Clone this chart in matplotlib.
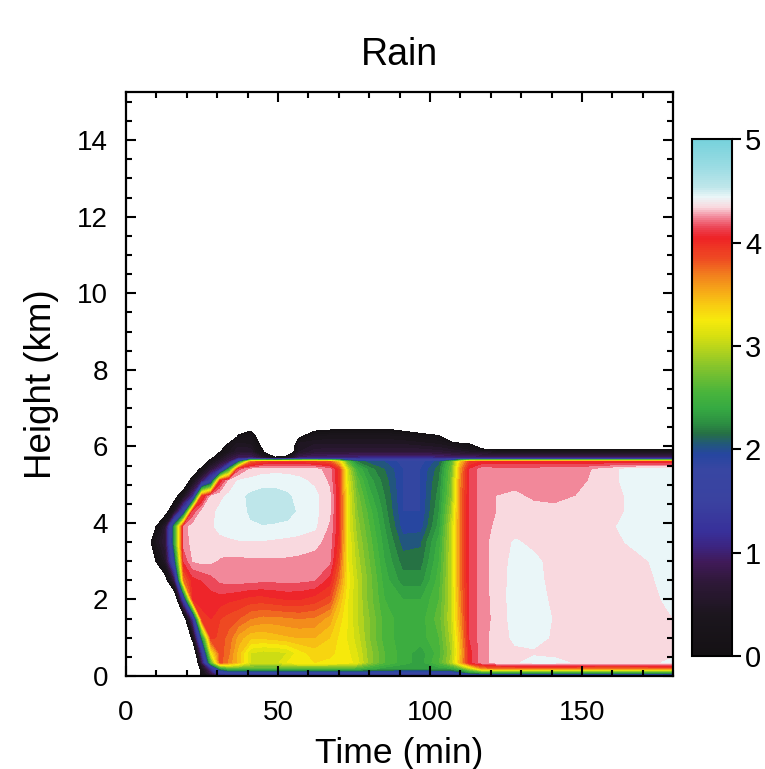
import numpy as np
import matplotlib
matplotlib.use("Agg")
import matplotlib.pyplot as plt
from matplotlib.colors import LinearSegmentedColormap, Normalize
from matplotlib.cm import ScalarMappable
from matplotlib.ticker import MultipleLocator

plt.rcParams['font.family'] = ['Liberation Sans', 'DejaVu Sans']

# Tiempo (min) y altura (km) de la malla
times = [0, 7, 10, 13, 16, 19, 22, 25, 28, 31,
         34, 37, 41, 45, 49, 53, 57, 62, 67, 70,
         73, 76, 80, 85, 91, 97, 103, 107, 110, 113,
         117, 122, 128, 134, 141, 148, 156, 164, 172, 180]
heights = [0.0, 0.1, 0.2, 0.35, 0.6, 1.0, 1.5, 2.0, 2.5, 3.0, 3.5, 3.9,
           4.3, 4.7, 5.1, 5.4, 5.6, 5.7, 5.85, 6.05, 6.25, 6.45, 6.6, 15.25]

# Valores de lluvia (-1 = sin dato / fuera de la nube)
rain = [
    [-1, -1, -1, -1, -1, -1, -1, 0.1, 0.6, 1.0,
     1.1, 1.1, 1.1, 1.1, 1.1, 1.1, 1.1, 1.1, 1.1, 1.1,
     1.1, 1.1, 1.1, 1.1, 1.1, 1.1, 1.1, 1.1, 1.2, 1.3,
     1.4, 1.4, 1.4, 1.4, 1.4, 1.4, 1.4, 1.4, 1.4, 1.4],
    [-1, -1, -1, -1, -1, -1, -1, 0.2, 0.9, 1.6,
     1.8, 1.8, 1.8, 1.8, 1.8, 1.8, 1.8, 1.8, 1.8, 1.8,
     1.8, 1.8, 1.8, 1.8, 1.8, 1.8, 1.8, 1.8, 2.0, 2.3,
     2.45, 2.45, 2.45, 2.45, 2.45, 2.45, 2.45, 2.45, 2.45, 2.45],
    [-1, -1, -1, -1, -1, -1, -1, 0.3, 1.2, 2.3,
     2.6, 2.6, 2.6, 2.6, 2.6, 2.6, 2.6, 2.6, 2.6, 2.6,
     2.6, 2.55, 2.45, 2.35, 2.3, 2.3, 2.35, 2.4, 2.6, 3.0,
     3.6, 3.75, 3.75, 3.75, 3.75, 3.75, 3.75, 3.75, 3.75, 3.75],
    [-1, -1, -1, -1, -1, -1, -1, 0.8, 2.6, 3.85,
     3.65, 3.45, 3.1, 3.05, 3.05, 3.2, 3.3, 3.3, 3.28, 3.25,
     3.25, 3.15, 2.85, 2.6, 2.45, 2.35, 2.6, 2.95, 3.5, 4.05,
     4.25, 4.35, 4.38, 4.45, 4.45, 4.38, 4.35, 4.35, 4.38, 4.42],
    [-1, -1, -1, -1, -1, -1, -0.6, 1.2, 3.2, 3.85,
     3.7, 3.45, 3.1, 3.05, 3.05, 3.1, 3.25, 3.35, 3.32, 3.28,
     3.22, 3.1, 2.85, 2.6, 2.45, 2.35, 2.55, 2.9, 3.45, 4.05,
     4.25, 4.35, 4.38, 4.38, 4.35, 4.35, 4.35, 4.35, 4.36, 4.38],
    [-1, -1, -1, -1, -1, -1, 0.2, 2.2, 3.95, 3.85,
     3.75, 3.55, 3.42, 3.42, 3.45, 3.48, 3.5, 3.5, 3.4, 3.28,
     3.18, 3.05, 2.8, 2.55, 2.45, 2.45, 2.6, 2.95, 3.5, 4.1,
     4.25, 4.35, 4.42, 4.45, 4.38, 4.35, 4.35, 4.35, 4.36, 4.38],
    [-1, -1, -1, -1, -1, -0.3, 1.2, 3.95, 4.0, 3.9,
     3.85, 3.8, 3.7, 3.66, 3.66, 3.68, 3.7, 3.68, 3.55, 3.35,
     3.2, 3.0, 2.8, 2.55, 2.45, 2.45, 2.65, 3.0, 3.6, 4.1,
     4.25, 4.33, 4.45, 4.46, 4.39, 4.35, 4.35, 4.36, 4.38, 4.4],
    [-1, -1, -1, -1, -0.6, 1.5, 4.0, 4.05, 4.05, 4.05,
     4.02, 4.0, 3.95, 3.95, 3.98, 4.0, 4.0, 3.95, 3.85, 3.5,
     3.2, 3.0, 2.75, 2.5, 2.4, 2.4, 2.6, 3.0, 3.65, 4.12,
     4.25, 4.34, 4.45, 4.46, 4.37, 4.35, 4.36, 4.36, 4.38, 4.42],
    [-1, -1, -1, -0.2, 0.8, 3.7, 4.05, 4.1, 4.15, 4.22,
     4.24, 4.24, 4.23, 4.22, 4.22, 4.23, 4.22, 4.2, 4.05, 3.7,
     3.25, 3.0, 2.75, 2.45, 2.25, 2.25, 2.55, 3.0, 3.7, 4.12,
     4.25, 4.35, 4.44, 4.44, 4.36, 4.35, 4.36, 4.37, 4.39, 4.43],
    [-1, -1, 0.05, 0.5, 1.9, 4.1, 4.3, 4.33, 4.32, 4.28,
     4.27, 4.27, 4.28, 4.28, 4.28, 4.28, 4.27, 4.26, 4.22, 3.85,
     3.2, 2.95, 2.7, 2.4, 2.15, 2.15, 2.5, 3.0, 3.7, 4.12,
     4.25, 4.35, 4.43, 4.42, 4.37, 4.35, 4.36, 4.38, 4.4, 4.45],
    [-1, -0.3, 0.4, 0.7, 2.4, 4.25, 4.33, 4.36, 4.37, 4.38,
     4.38, 4.39, 4.39, 4.39, 4.38, 4.37, 4.36, 4.33, 4.26, 3.95,
     3.2, 2.9, 2.65, 2.35, 2.05, 2.08, 2.45, 3.0, 3.7, 4.12,
     4.25, 4.35, 4.41, 4.38, 4.36, 4.35, 4.37, 4.4, 4.43, 4.46],
    [-1, -1, 0.05, 0.6, 2.4, 4.25, 4.35, 4.37, 4.39, 4.42,
     4.45, 4.47, 4.49, 4.49, 4.48, 4.47, 4.45, 4.42, 4.28, 4.0,
     3.15, 2.85, 2.6, 2.3, 1.95, 1.95, 2.35, 3.0, 3.7, 4.12,
     4.25, 4.32, 4.36, 4.37, 4.36, 4.35, 4.38, 4.41, 4.45, 4.47],
    [-1, -1, -1, -0.2, 0.5, 1.6, 4.1, 4.33, 4.38, 4.42,
     4.46, 4.47, 4.51, 4.56, 4.56, 4.54, 4.48, 4.43, 4.32, 4.0,
     3.15, 2.8, 2.55, 2.25, 1.9, 1.9, 2.3, 2.9, 3.7, 4.12,
     4.25, 4.3, 4.33, 4.34, 4.33, 4.33, 4.37, 4.4, 4.46, 4.48],
    [-1, -1, -1, -1, -0.2, 0.4, 1.1, 3.9, 4.33, 4.38,
     4.42, 4.47, 4.52, 4.55, 4.55, 4.52, 4.46, 4.43, 4.32, 4.0,
     3.15, 2.75, 2.45, 2.2, 1.9, 1.9, 2.25, 2.8, 3.7, 4.12,
     4.25, 4.3, 4.32, 4.28, 4.27, 4.3, 4.36, 4.4, 4.46, 4.48],
    [-1, -1, -1, -1, -1, -0.5, 0.3, 0.9, 1.6, 4.0,
     4.33, 4.41, 4.43, 4.45, 4.45, 4.44, 4.42, 4.38, 4.28, 3.95,
     3.1, 2.65, 2.35, 2.15, 1.9, 1.9, 2.2, 2.75, 3.65, 4.12,
     4.25, 4.25, 4.26, 4.26, 4.26, 4.27, 4.33, 4.42, 4.46, 4.48],
    [-1, -1, -1, -1, -1, -1, -0.5, 0.2, 0.7, 1.1,
     2.4, 4.15, 4.32, 4.36, 4.37, 4.37, 4.36, 4.34, 4.25, 3.95,
     3.0, 2.5, 2.25, 2.1, 1.9, 1.9, 2.15, 2.7, 3.6, 4.1,
     4.25, 4.24, 4.24, 4.24, 4.25, 4.26, 4.32, 4.42, 4.45, 4.46],
    [-1, -1, -1, -1, -1, -1, -1, -0.5, 0.3, 0.6,
     0.9, 2.0, 3.7, 3.9, 3.95, 3.95, 3.95, 3.9, 3.8, 3.4,
     2.6, 2.2, 2.05, 2.0, 1.85, 1.85, 2.05, 2.6, 3.4, 3.9,
     4.0, 4.0, 4.0, 4.0, 4.0, 4.0, 4.0, 4.0, 4.0, 4.0],
    [-1, -1, -1, -1, -1, -1, -1, -1, -0.1, 0.4,
     0.7, 0.9, 0.95, 0.6, 0.15, 0.3, 0.9, 1.0, 1.0, 1.0,
     1.0, 1.05, 1.1, 1.1, 1.1, 1.1, 1.05, 1.0, 1.0, 1.0,
     0.95, 0.95, 0.95, 0.95, 0.95, 0.95, 0.95, 0.95, 0.95, 0.95],
    [-1, -1, -1, -1, -1, -1, -1, -1, -1, 0.05,
     0.4, 0.6, 0.6, 0.05, -1, -0.6, 0.5, 0.65, 0.7, 0.7,
     0.7, 0.7, 0.7, 0.7, 0.7, 0.7, 0.65, 0.6, 0.55, 0.5,
     0.45, 0.4, 0.4, 0.4, 0.4, 0.4, 0.4, 0.4, 0.4, 0.4],
    [-1, -1, -1, -1, -1, -1, -1, -1, -1, -1,
     0.3, 0.45, 0.4, -0.15, -1, -1, 0.5, 0.5, 0.5, 0.5,
     0.5, 0.5, 0.5, 0.5, 0.5, 0.45, 0.4, 0.3, 0.2, 0.1,
     -0.6, -1, -1, -1, -1, -1, -1, -1, -1, -1],
    [-1, -1, -1, -1, -1, -1, -1, -1, -1, -1,
     -1, 0.15, 0.3, -0.4, -1, -1, -0.05, 0.3, 0.35, 0.35,
     0.35, 0.35, 0.35, 0.35, 0.3, 0.25, 0.15, -0.6, -1, -1,
     -1, -1, -1, -1, -1, -1, -1, -1, -1, -1],
    [-1, -1, -1, -1, -1, -1, -1, -1, -1, -1,
     -1, -0.5, -0.1, -1, -1, -1, -1, -0.1, -0.05, 0.01,
     0.02, 0.02, 0.02, 0.01, -0.1, -0.3, -0.8, -1, -1, -1,
     -1, -1, -1, -1, -1, -1, -1, -1, -1, -1],
    [-1] * 40,
    [-1] * 40,
]

# Paleta (valor, color) parecida a la de la figura original
cmap_values = [0.0, 0.4, 0.7, 0.9, 1.05, 1.2, 1.5, 1.8, 1.95, 2.05, 2.15, 2.25,
               2.4, 2.55, 2.75, 2.95, 3.1, 3.25, 3.4, 3.55, 3.7, 3.85, 4.05,
               4.15, 4.25, 4.35, 4.45, 4.55, 4.75, 5.0]
cmap_colors = ['#141114', '#1c161e', '#2e1838', '#401a58', '#3c2480', '#38309a',
               '#3a42a0', '#3846a2', '#2646a0', '#22587a', '#267044', '#2c8e42',
               '#36aa42', '#48b43c', '#78c030', '#b0d21e', '#d8e010', '#f6ea0c',
               '#f8cc12', '#f6a618', '#f27e1e', '#ee4c22', '#ee2226', '#ec4454',
               '#f28496', '#f9d8de', '#eaf6f8', '#bee6ea', '#9adce3', '#78d2dc']

vmax = 5.0
cmap = LinearSegmentedColormap.from_list(
    'rain', list(zip([v / vmax for v in cmap_values], cmap_colors)))
norm = Normalize(vmin=0, vmax=vmax)
levels = np.linspace(0, vmax, 51)

fig = plt.figure(figsize=(7.65, 7.69), dpi=100)
ax = fig.add_axes([0.1647, 0.1209, 0.7154, 0.759])

T, H = np.meshgrid(times, heights)
Z = np.array(rain)
ax.contourf(T, H, Z, levels=levels, cmap=cmap, norm=norm)

ax.set_xlim(0, 180)
ax.set_ylim(0, 15.25)
ax.xaxis.set_major_locator(MultipleLocator(50))
ax.xaxis.set_minor_locator(MultipleLocator(10))
ax.yaxis.set_major_locator(MultipleLocator(2))
ax.yaxis.set_minor_locator(MultipleLocator(0.5))
ax.tick_params(which='both', direction='in', top=True, right=True, width=1.5)
ax.tick_params(which='major', length=7.5)
ax.tick_params(which='minor', length=4.5)
ax.tick_params(axis='x', which='major', labelsize=20, pad=17)
ax.tick_params(axis='y', which='major', labelsize=20, pad=13)
for sp in ax.spines.values():
    sp.set_linewidth(1.6)

ax.set_title('Rain', fontsize=27, pad=20)
ax.set_xlabel('Time (min)', fontsize=25.5, labelpad=8)
ax.set_ylabel('Height (km)', fontsize=26.5, labelpad=13)

cax = fig.add_axes([0.9042, 0.1469, 0.0523, 0.6717])
cb = fig.colorbar(ScalarMappable(norm=norm, cmap=cmap), cax=cax, ticks=[0, 1, 2, 3, 4, 5])
cb.outline.set_linewidth(1.5)
cb.ax.tick_params(labelsize=21, length=6.5, width=1.5, direction='out', pad=3)

fig.savefig('out.png', dpi=100)
